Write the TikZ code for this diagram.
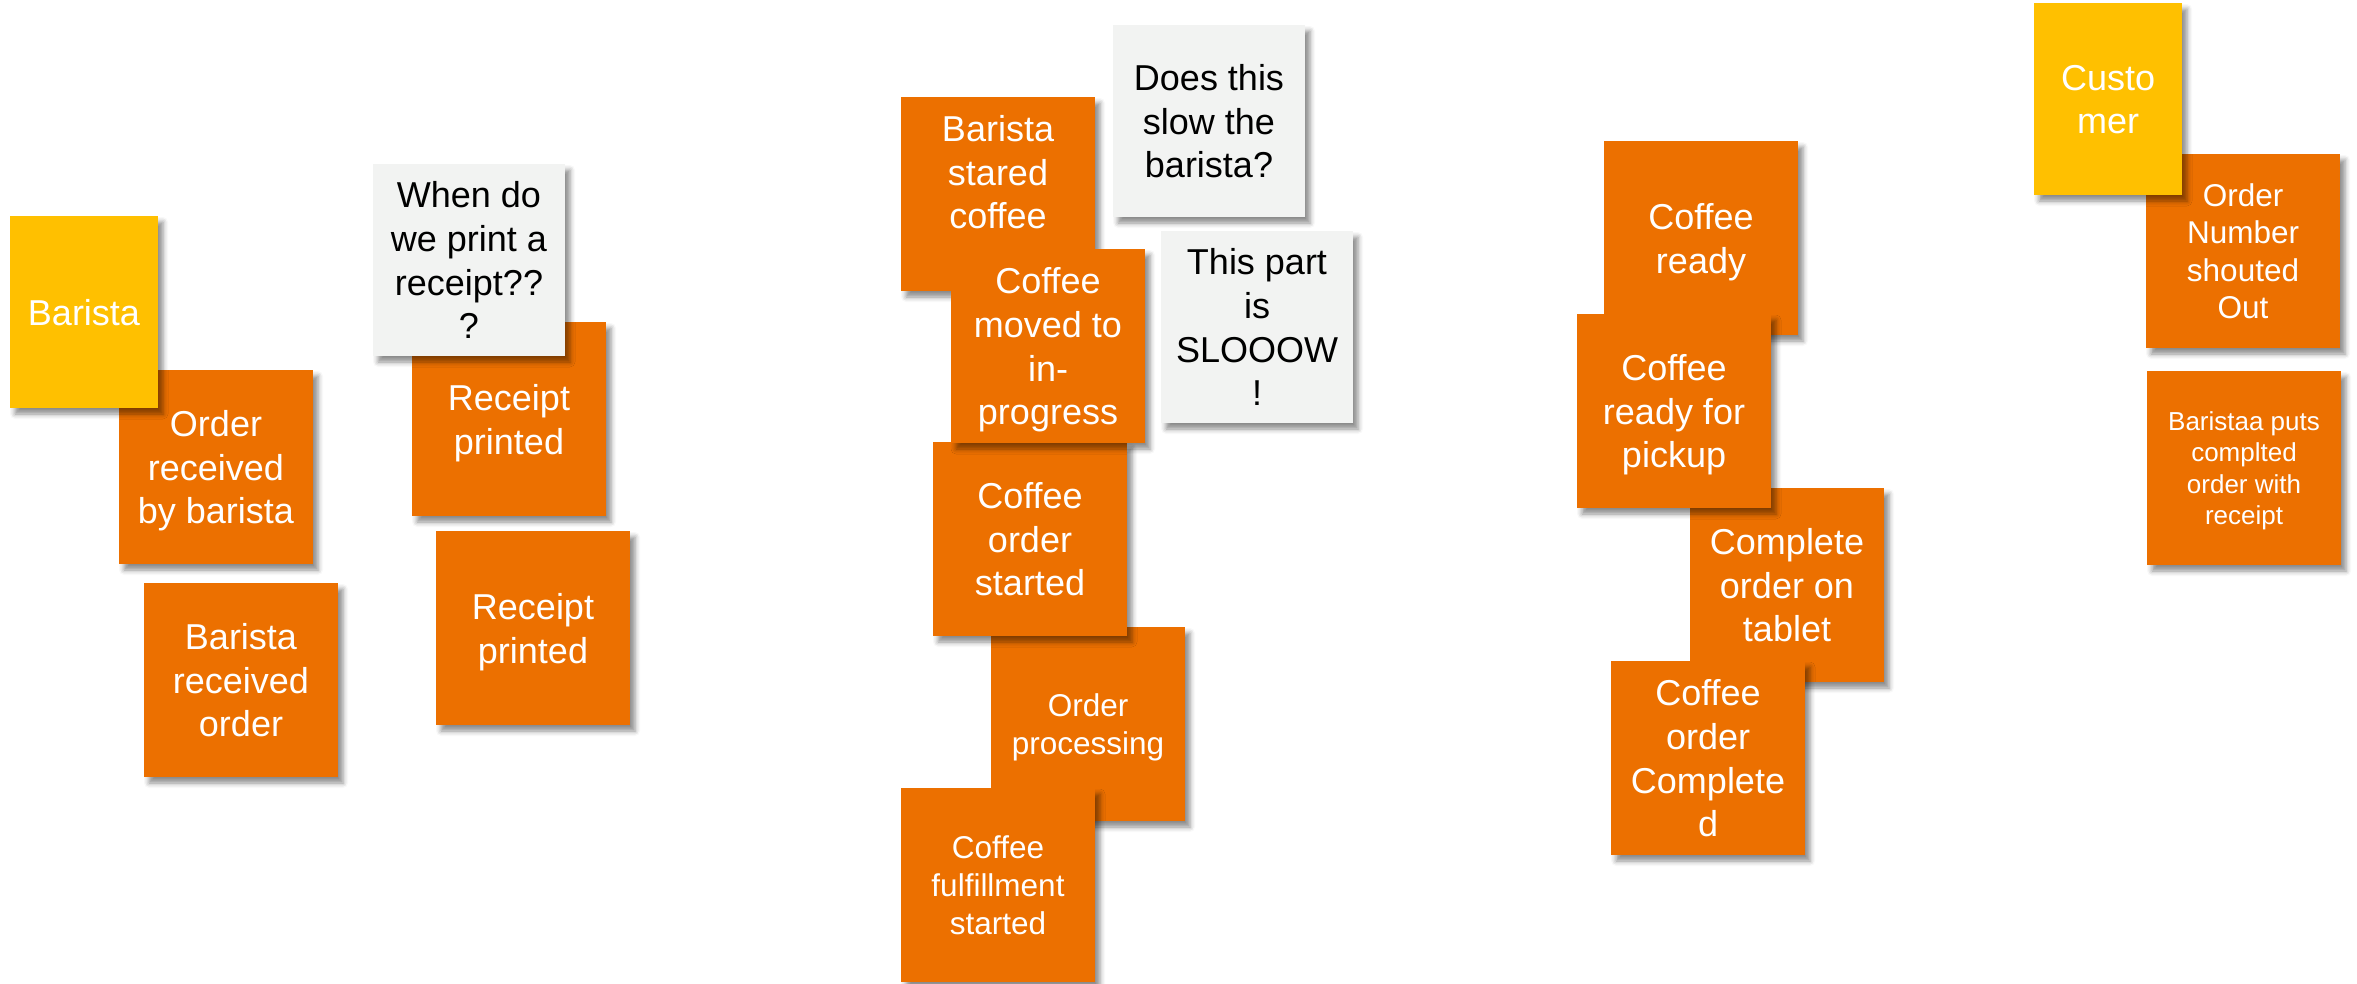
\documentclass[tikz,border=0pt]{standalone}
\usepackage{fontspec}
\setmainfont{Liberation Sans}
\usetikzlibrary{shadows.blur}
\definecolor{noteorange}{RGB}{236,112,0}
\definecolor{noteyellow}{RGB}{255,192,0}
\definecolor{notegray}{RGB}{242,243,242}
% uniform line extent, so every note's text block sits the same way
\newcommand\ns{\rule[-0.211em]{0pt}{1.155em}}
\tikzset{
  note/.style={rectangle, inner sep=4pt, align=center,
    minimum width=194pt, minimum height=194pt,
    blur shadow={shadow xshift=5pt, shadow yshift=-6pt,
      shadow blur radius=5pt, shadow opacity=45}},
  task/.style={note, fill=noteorange, text=white},
  actor/.style={note, fill=noteyellow, text=white,
    minimum width=148pt, minimum height=192pt},
  question/.style={note, fill=notegray, text=black,
    minimum width=192pt, minimum height=192pt},
  bigtext/.style={font=\fontsize{36}{43.6}\selectfont},
  midtext/.style={font=\fontsize{31.5}{37.6}\selectfont},
  smalltext/.style={font=\fontsize{26}{31.6}\selectfont}
}
\begin{document}
\begin{tikzpicture}[x=1pt, y=-1pt]
\useasboundingbox (0,0) rectangle (2357,983);

% Barista lane
\node[task, bigtext] (orderrecv) at (216,467) {\ns Order\\received\\by barista\ns};
\node[actor, bigtext] (barista) at (84,312) {\ns Barista\ns};
\node[task, bigtext] (baristarecv) at (241,680) {\ns Barista\\received\\order\ns};

% Receipt notes
\node[task, bigtext] (receipt1) at (509,419) {\ns Receipt\\printed\ns};
\node[question, bigtext] (when) at (469,260) {\ns When do\\we print a\\receipt??\\?\ns};
\node[task, bigtext] (receipt2) at (533,628) {\ns Receipt\\printed\ns};

% Coffee preparation
\node[task, bigtext] (stared) at (998,194) {\ns Barista\\stared\\coffee\\\ns};
\node[question, bigtext] (doesthis) at (1209,121) {\ns Does this\\slow the\\barista?\ns};
\node[task, midtext] (processing) at (1088,724) {\ns Order\\processing\ns};
\node[task, bigtext] (orderstarted) at (1030,539) {\ns Coffee\\order\\started\ns};
\node[task, bigtext] (moved) at (1048,346) {\ns Coffee\\moved to\\in-\\progress\ns};
\node[question, bigtext] (slow) at (1257,327) {\ns This part\\is\\SLOOOW\\!\ns};
\node[task, midtext] (fulfill) at (998,885) {\ns Coffee\\fulfillment\\started\ns};

% Completion
\node[task, bigtext] (ready) at (1701,238) {\ns Coffee\\ready\ns};
\node[task, bigtext] (tablet) at (1787,585) {\ns Complete\\order on\\tablet\ns};
\node[task, bigtext] (pickup) at (1674,411) {\ns Coffee\\ready for\\pickup\ns};
\node[task, bigtext] (completed) at (1708,758) {\ns Coffee\\order\\Complete\\d\ns};

% Customer lane
\node[task, midtext] (ordernumber) at (2243,251) {\ns Order\\Number\\shouted\\Out\ns};
\node[actor, bigtext] (customer) at (2108,99) {\ns Custo\\mer\ns};
\node[task, smalltext] (baristaa) at (2244,468) {\ns Baristaa puts\\complted\\order with\\receipt\ns};
\end{tikzpicture}
\end{document}
